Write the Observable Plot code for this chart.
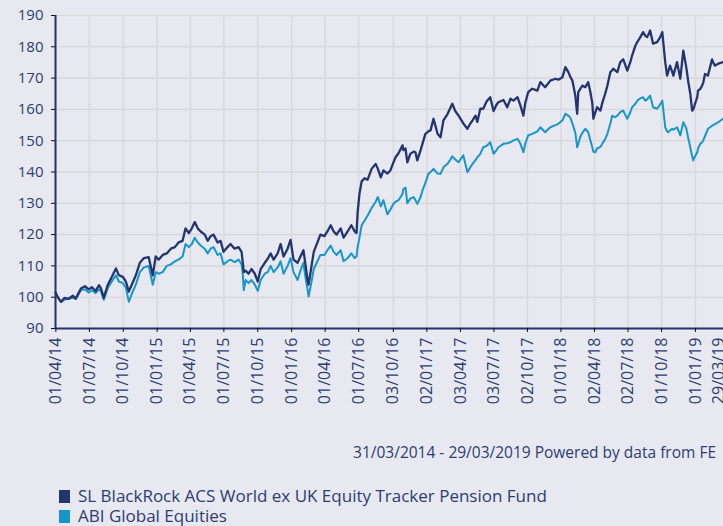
<!DOCTYPE html>
<html><head><meta charset="utf-8">
<script src="https://cdn.jsdelivr.net/npm/d3@7"></script>
<script src="https://cdn.jsdelivr.net/npm/@observablehq/plot@0.6"></script>
<style>
html,body{margin:0;padding:0;background:#e8e8f0;overflow:hidden;width:723px;height:526px;font-family:"Open Sans",sans-serif;color:#2c3d73}
#chart svg{display:block;overflow:hidden}
.caption{margin-top:23px;height:18px;line-height:18px;font-size:15.5px;text-align:right;padding-right:7px;white-space:nowrap}
.legend{margin-top:25px;padding-left:59px}
.legend .row{display:flex;align-items:center;height:20px;font-size:17px;line-height:20px;white-space:nowrap}
.legend .sw{width:11px;height:13px;margin-right:8px;flex:none}
</style></head><body>
<div id="chart"></div>
<div class="caption" id="caption"></div>
<div class="legend" id="legend"></div>
<script>
const dates = ["2014-03-31","2014-04-06","2014-04-15","2014-04-25","2014-05-06","2014-05-17","2014-05-25","2014-05-31","2014-06-08","2014-06-19","2014-06-29","2014-07-08","2014-07-18","2014-07-27","2014-08-01","2014-08-09","2014-08-20","2014-08-31","2014-09-11","2014-09-19","2014-09-30","2014-10-08","2014-10-16","2014-10-24","2014-11-04","2014-11-15","2014-11-26","2014-12-09","2014-12-20","2014-12-28","2015-01-05","2015-01-16","2015-01-27","2015-02-07","2015-02-18","2015-02-28","2015-03-11","2015-03-19","2015-03-28","2015-04-05","2015-04-13","2015-04-21","2015-04-29","2015-05-10","2015-05-18","2015-05-26","2015-06-03","2015-06-14","2015-06-22","2015-06-30","2015-07-11","2015-07-19","2015-07-30","2015-08-10","2015-08-18","2015-08-21","2015-08-24","2015-08-29","2015-09-06","2015-09-14","2015-09-23","2015-10-01","2015-10-09","2015-10-20","2015-10-28","2015-11-05","2015-11-13","2015-11-24","2015-12-02","2015-12-10","2015-12-21","2015-12-29","2016-01-06","2016-01-17","2016-01-25","2016-02-02","2016-02-08","2016-02-13","2016-02-16","2016-02-24","2016-03-01","2016-03-11","2016-03-19","2016-03-30","2016-04-07","2016-04-16","2016-04-24","2016-05-02","2016-05-13","2016-05-21","2016-06-01","2016-06-11","2016-06-20","2016-06-25","2016-06-28","2016-07-03","2016-07-09","2016-07-17","2016-07-25","2016-08-05","2016-08-16","2016-08-22","2016-08-30","2016-09-06","2016-09-17","2016-09-25","2016-10-03","2016-10-09","2016-10-17","2016-10-28","2016-10-30","2016-11-05","2016-11-10","2016-11-18","2016-11-27","2016-12-02","2016-12-07","2016-12-16","2016-12-21","2016-12-29","2017-01-06","2017-01-12","2017-01-20","2017-01-31","2017-02-08","2017-02-16","2017-02-27","2017-03-07","2017-03-12","2017-03-20","2017-03-29","2017-04-06","2017-04-11","2017-04-22","2017-04-30","2017-05-06","2017-05-14","2017-05-19","2017-05-27","2017-06-04","2017-06-13","2017-06-23","2017-07-02","2017-07-10","2017-07-15","2017-07-29","2017-08-08","2017-08-17","2017-08-25","2017-09-05","2017-09-13","2017-09-21","2017-09-26","2017-10-04","2017-10-15","2017-10-29","2017-11-06","2017-11-19","2017-12-03","2017-12-17","2017-12-25","2018-01-05","2018-01-13","2018-01-21","2018-01-26","2018-02-01","2018-02-09","2018-02-14","2018-02-17","2018-02-22","2018-02-28","2018-03-08","2018-03-16","2018-03-21","2018-03-27","2018-03-30","2018-04-04","2018-04-09","2018-04-18","2018-04-23","2018-05-01","2018-05-07","2018-05-15","2018-05-20","2018-05-23","2018-05-28","2018-06-03","2018-06-11","2018-06-19","2018-06-30","2018-07-08","2018-07-13","2018-07-22","2018-07-27","2018-08-04","2018-08-12","2018-08-18","2018-08-23","2018-08-31","2018-09-08","2018-09-19","2018-09-27","2018-10-03","2018-10-11","2018-10-16","2018-10-19","2018-10-24","2018-10-30","2018-11-02","2018-11-12","2018-11-21","2018-11-29","2018-12-07","2018-12-10","2018-12-12","2018-12-18","2018-12-23","2018-12-26","2018-12-31","2019-01-06","2019-01-08","2019-01-14","2019-01-19","2019-01-22","2019-01-27","2019-02-04","2019-02-15","2019-02-18","2019-02-23","2019-03-04","2019-03-17","2019-03-29"];

const fund = [101.5,100,98.5,99.8,99.5,100.5,99.5,101,102.8,103.5,102.5,103.2,102,103.8,103,99.8,104,106.5,109.2,107,106.5,105,101.8,104,107,111,112.5,112.8,107,113,112,113.5,114,115.5,116,117.5,118,122,120.5,122,124,122,121,120,118,119.5,120,117.5,118,114.5,116,117,115.5,116,114.5,111.5,108,108.5,107.5,109,107.5,105,109,111,112.3,114,112,114,117,113,115.5,118.3,112,111,113,115,110,105.5,104,110,114.5,117.5,120,119.5,121,123,121,120,122,119,121,123,121,120.5,127,133,137,138,137.5,141,142.6,141,138.3,140.5,139.5,140.5,143,144.7,146,148.5,147,147.5,143.1,145.8,146.5,146.3,143.7,147,149,152.2,153,153.3,157,152.2,151.1,156.5,158.5,160.5,161.8,159.5,158,156.5,155.5,153.8,155.5,156.5,158,156,160.2,160.2,162.5,163.9,159.5,161.5,162.3,163,160.7,163.4,162.8,163.9,161.2,158,162,165.5,166.6,166,168.7,167.1,169.2,169.8,169.5,170.3,173.5,171.9,170.5,169.2,164.4,158.6,165.5,166.5,167.6,167.1,168.7,166,162,157,159,160.7,159.6,162,165,167.6,171.9,172.5,173,172.5,171.9,175.1,176,172.4,175,177.2,180.4,181.5,183,184.7,183.5,183.1,185.2,181,181.5,183,184.7,175.1,170.8,172,174,172,170.8,175.1,169.8,178.8,173.5,171,169.2,165,159.6,160,161.8,164,166,166.5,167.6,168.5,171.3,170.8,176,175,174,174.6,175.1,175.5];

const abi = [101.5,100,98.5,99.3,99.5,99.8,99.5,100.5,102.3,102.5,101.5,102.2,101.3,102.5,102,99.2,103,105,107,105,104.5,103,98.5,101,104,108,109.5,110,104,108,107.5,108,110,110.5,111.5,112,113,117,116,117,119,117.5,116.5,115.5,114,115.5,116,113.5,114,110.5,111.5,112,111.2,112,110.5,108,102.2,105.5,104.5,105.5,104,102,105.5,107.5,108,110,108,109.5,111.5,107.5,110,112.5,108,105.5,108.5,111,106,102.5,100.2,105,109,111.5,113.5,113.5,115,116.5,114.5,113.5,115,111.5,112.5,114,112.5,113,116,119,123,124.5,126,128.5,130.5,132,129,131,126.5,128,129.8,130.5,131,133,134.5,135,130,131.5,132,131,129.8,132,134.1,136.5,139.4,140,141,139.5,139.4,141.5,142.6,144,145,144,143.1,144.5,145.3,139.9,141.5,142.6,143.8,144.7,145.8,147.9,148.3,149.5,145.8,147,147.9,149,149.2,149.5,150.1,150.6,149,146.3,149,151.7,152.2,153,154.3,152.7,154.3,155,155.4,156.5,158.6,158,157.5,155.5,152.5,147.9,149,151.1,152.5,153.8,152.7,150.5,147.9,146.5,146.3,147.5,148,149,150.5,152.2,155.5,158,157.8,157.5,158,159.1,159.6,157,159,160.7,161.8,162.8,163.5,163.9,162.8,163.2,164.4,160.7,160.2,161.5,162.8,154.3,153,152.7,153.3,153.8,153.5,154.3,151.7,155.9,154,152.2,151,147.9,145,143.7,145,146.3,147.5,149,149.5,150.1,151.5,153.8,154.8,155,155.3,155.9,157,156.5];

const tickDates = ["2014-04-01","2014-07-01","2014-10-01","2015-01-01","2015-04-01","2015-07-01","2015-10-01","2016-01-01","2016-04-01","2016-07-01","2016-10-03","2017-01-02","2017-04-03","2017-07-03","2017-10-02","2018-01-01","2018-04-02","2018-07-02","2018-10-01","2019-01-01","2019-03-29"];
const tickLabels = ["01/04/14","01/07/14","01/10/14","01/01/15","01/04/15","01/07/15","01/10/15","01/01/16","01/04/16","01/07/16","03/10/16","02/01/17","03/04/17","03/07/17","02/10/17","01/01/18","02/04/18","02/07/18","01/10/18","01/01/19","29/03/19"];
const yTicks = [90,100,110,120,130,140,150,160,170,180,190];
const seriesNames = ["SL BlackRock ACS World ex UK Equity Tracker Pension Fund","ABI Global Equities"];
const seriesColors = ["#22356f","#1796c9"];
const captionText = "31/03/2014 - 29/03/2019 Powered by data from FE";

const parse = d3.utcParse("%Y-%m-%d");
const data = dates.map((d, i) => ({date: parse(d), fund: fund[i], abi: abi[i]}));
const ticks = tickDates.map(parse);
const labelOf = new Map(ticks.map((t, i) => [+t, tickLabels[i]]));
const textColor = "#2c3d73";

const plot = Plot.plot({
  width: 723,
  height: 420,
  marginTop: 15,
  marginBottom: 92,
  marginLeft: 55,
  marginRight: -4,
  style: {background: "transparent", color: textColor, fontFamily: "Open Sans", overflow: "hidden"},
  x: {type: "utc", domain: [parse(dates[0]), parse(dates[dates.length - 1])]},
  y: {domain: [90, 190]},
  marks: [
    Plot.gridX(ticks, {stroke: "#dadadd", strokeOpacity: 1, strokeWidth: 1.6}),
    Plot.gridY(yTicks, {stroke: "#dadadd", strokeOpacity: 1, strokeWidth: 1.6}),
    Plot.lineY(data, {x: "date", y: "abi", stroke: seriesColors[1], strokeWidth: 2}),
    Plot.lineY(data, {x: "date", y: "fund", stroke: seriesColors[0], strokeWidth: 2.3}),
    Plot.ruleX([parse(dates[0])], {stroke: seriesColors[0], strokeWidth: 2}),
    Plot.ruleY([90], {stroke: seriesColors[0], strokeWidth: 2}),
    Plot.axisY({ticks: yTicks, tickSize: 4, tickPadding: 8, fontSize: 15, stroke: "#111", fill: textColor}),
    Plot.axisX({ticks: ticks.slice(0, -1), tickFormat: d => labelOf.get(+d), tickRotate: -90, tickSize: 4, tickPadding: 5, fontSize: 16, stroke: "#111", fill: textColor}),
    Plot.axisX({ticks: ticks.slice(-1), tickFormat: d => labelOf.get(+d), tickRotate: -90, tickSize: 0, tickPadding: 9, fontSize: 16, dx: -9, fill: textColor})
  ]
});
document.getElementById("chart").appendChild(plot);
document.getElementById("caption").textContent = captionText;
const legend = document.getElementById("legend");
seriesNames.forEach((name, i) => {
  const row = document.createElement("div");
  row.className = "row";
  const sw = document.createElement("span");
  sw.className = "sw";
  sw.style.background = seriesColors[i];
  const label = document.createElement("span");
  label.textContent = name;
  row.appendChild(sw);
  row.appendChild(label);
  legend.appendChild(row);
});
</script>
</body></html>
